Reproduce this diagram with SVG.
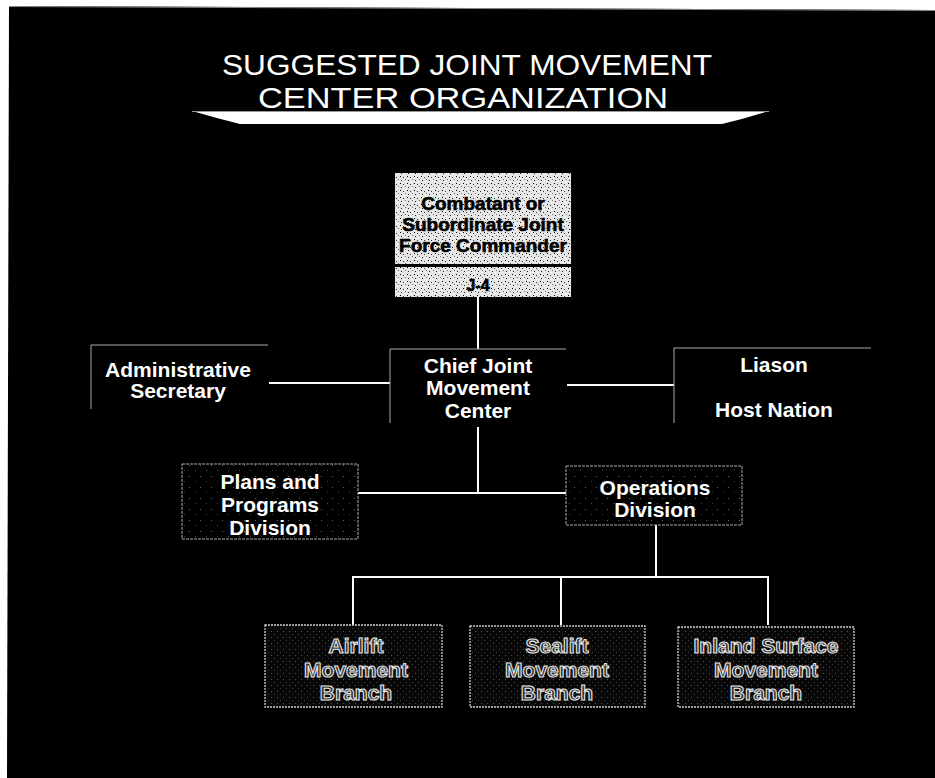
<svg xmlns="http://www.w3.org/2000/svg" width="935" height="778" viewBox="0 0 935 778">
<defs>
<pattern id="lt" width="7" height="7" patternUnits="userSpaceOnUse">
<rect width="7" height="7" fill="#e6e6e6"/>
<rect x="1" y="1" width="1" height="1" fill="#000"/>
<rect x="4" y="2" width="1" height="1" fill="#333"/>
<rect x="2" y="5" width="1" height="1" fill="#222"/>
<rect x="6" y="4" width="1" height="1" fill="#777"/>
<rect x="5" y="6" width="1" height="1" fill="#fff"/>
</pattern>
<pattern id="dk" width="11" height="11" patternUnits="userSpaceOnUse">
<rect width="11" height="11" fill="#000"/>
<rect x="2" y="3" width="1" height="1" fill="#666"/>
<rect x="8" y="8" width="1" height="1" fill="#444"/>
</pattern>
<pattern id="dk2" width="6" height="6" patternUnits="userSpaceOnUse">
<rect width="6" height="6" fill="#080808"/>
<rect x="1" y="1" width="1" height="1" fill="#555"/>
<rect x="4" y="4" width="1" height="1" fill="#3a3a3a"/>
</pattern>
</defs>
<style>
.title{font-family:"Liberation Sans",Arial,sans-serif;font-size:29px;fill:#fff;text-anchor:middle}
.t{font-family:"Liberation Sans",Arial,sans-serif;font-weight:bold;font-size:21px;fill:#fff;text-anchor:middle}
.tb{font-family:"Liberation Sans",Arial,sans-serif;font-weight:bold;font-size:19px;fill:#000;stroke:#000;stroke-width:0.6;text-anchor:middle}
.ol{font-family:"Liberation Sans",Arial,sans-serif;font-weight:bold;font-size:21px;fill:#2a2a2a;stroke:#e8e8e8;stroke-width:1.1;text-anchor:middle}
.open{fill:none;stroke:#aaa;stroke-width:1}
.dbox{fill:url(#dk);stroke:#aaa;stroke-width:1;stroke-dasharray:3 1}
.bbox{fill:url(#dk2);stroke:#ccc;stroke-width:1.3;stroke-dasharray:2 1}
.conn{fill:none;stroke:#fff;stroke-width:2}
</style>
<rect width="935" height="778" fill="#fff"/>
<polygon points="9,6 935,10 935,778 7,778" fill="#000"/>
<line x1="9" y1="6.5" x2="935" y2="10.5" stroke="#888" stroke-width="1"/>

<g id="title">
<text class="title" x="467" y="75" textLength="490" lengthAdjust="spacingAndGlyphs">SUGGESTED JOINT MOVEMENT</text>
<text class="title" x="463" y="108" textLength="410" lengthAdjust="spacingAndGlyphs">CENTER ORGANIZATION</text>
<path d="M192,111 L769,111 Q744,119 722,124 L240,124 Q216,118 192,111 Z" fill="#fff"/>
<line x1="192" y1="111.5" x2="769" y2="111.5" stroke="#999" stroke-width="1"/>
</g>

<g id="connectors">
<line class="conn" x1="478" y1="297" x2="478" y2="349"/>
<line class="conn" x1="269" y1="383" x2="390" y2="383"/>
<line class="conn" x1="567" y1="385" x2="674" y2="385"/>
<line class="conn" x1="478" y1="427" x2="478" y2="493"/>
<line class="conn" x1="358" y1="493" x2="566" y2="493"/>
<line class="conn" x1="656" y1="525" x2="656" y2="577"/>
<polyline class="conn" points="353,625 353,577 768,577 768,625"/>
<line class="conn" x1="561" y1="577" x2="561" y2="625"/>
</g>

<g id="commander">
<rect x="395" y="173" width="176" height="91" fill="url(#lt)"/>
<text class="tb" x="483" y="210">Combatant or</text>
<text class="tb" x="483" y="231">Subordinate Joint</text>
<text class="tb" x="483" y="252">Force Commander</text>
</g>
<g id="j4">
<rect x="395" y="267" width="176" height="30" fill="url(#lt)"/>
<text class="tb" x="478" y="291" style="font-size:16px">J-4</text>
</g>

<g id="admin">
<polyline class="open" points="91,409 91,345 268,345"/>
<text class="t" x="178" y="377">Administrative</text>
<text class="t" x="178" y="398">Secretary</text>
</g>

<g id="chief">
<polyline class="open" points="390,423 390,349 566,349"/>
<text class="t" x="478" y="373">Chief Joint</text>
<text class="t" x="478" y="395">Movement</text>
<text class="t" x="478" y="418">Center</text>
</g>

<g id="liason">
<polyline class="open" points="674,423 674,348 871,348"/>
<text class="t" x="774" y="372">Liason</text>
<text class="t" x="774" y="417">Host Nation</text>
</g>

<g id="plans">
<rect class="dbox" x="182" y="464" width="176" height="75"/>
<text class="t" x="270" y="489">Plans and</text>
<text class="t" x="270" y="512">Programs</text>
<text class="t" x="270" y="535">Division</text>
</g>

<g id="operations">
<rect class="dbox" x="566" y="466" width="176" height="59"/>
<text class="t" x="655" y="495">Operations</text>
<text class="t" x="655" y="517">Division</text>
</g>

<g id="airlift">
<rect class="bbox" x="265" y="625" width="177" height="82"/>
<text class="ol" x="356" y="653">Airlift</text>
<text class="ol" x="356" y="677">Movement</text>
<text class="ol" x="356" y="700">Branch</text>
</g>

<g id="sealift">
<rect class="bbox" x="470" y="626" width="175" height="81"/>
<text class="ol" x="557" y="653">Sealift</text>
<text class="ol" x="557" y="677">Movement</text>
<text class="ol" x="557" y="700">Branch</text>
</g>

<g id="inland">
<rect class="bbox" x="678" y="627" width="176" height="80"/>
<text class="ol" x="766" y="653" textLength="145" lengthAdjust="spacingAndGlyphs">Inland Surface</text>
<text class="ol" x="766" y="677">Movement</text>
<text class="ol" x="766" y="700">Branch</text>
</g>
</svg>
